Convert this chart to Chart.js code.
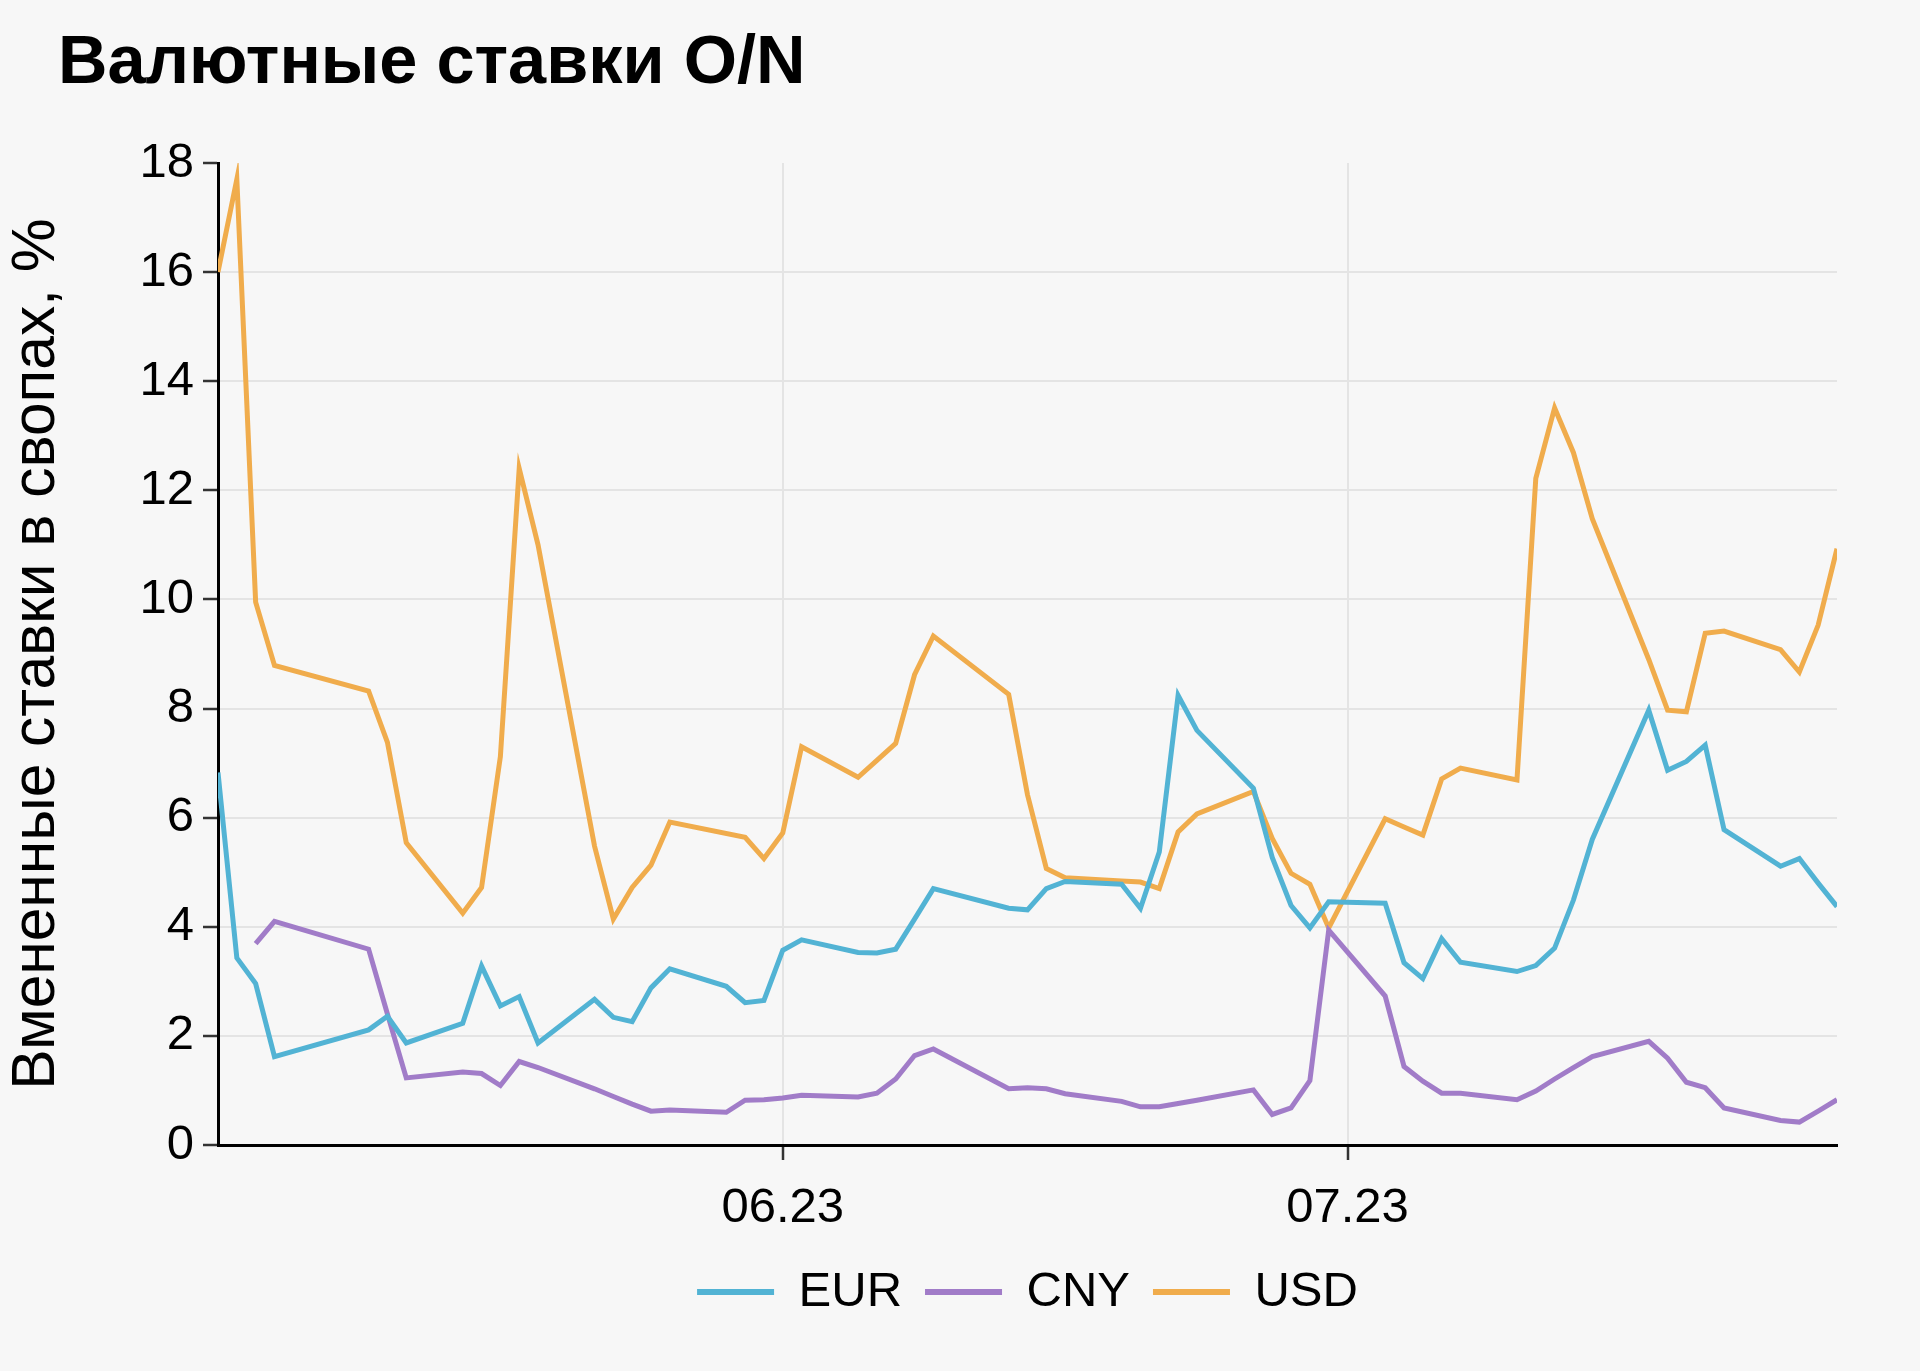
<!DOCTYPE html>
<html><head><meta charset="utf-8">
<script src="https://cdn.jsdelivr.net/npm/chart.js@4.4.1/dist/chart.umd.min.js"></script>
<style>
html,body{margin:0;padding:0;background:#f7f7f7;}
#wrap{position:relative;width:1920px;height:1371px;overflow:hidden;background:#f7f7f7;}
#title{position:absolute;left:58px;top:26px;margin:0;font:bold 68.5px "Liberation Sans",Arial,sans-serif;line-height:68px;color:#000;white-space:nowrap;}
canvas{position:absolute;left:0;top:0;}
</style></head><body>
<div id="wrap"><canvas id="c" width="1920" height="1371"></canvas><h1 id="title">Валютные ставки O/N</h1></div>
<script>
const dates = [
'2023-05-02','2023-05-03','2023-05-04','2023-05-05',
'2023-05-10','2023-05-11','2023-05-12',
'2023-05-15','2023-05-16','2023-05-17','2023-05-18','2023-05-19',
'2023-05-22','2023-05-23','2023-05-24','2023-05-25','2023-05-26',
'2023-05-29','2023-05-30','2023-05-31',
'2023-06-01','2023-06-02',
'2023-06-05','2023-06-06','2023-06-07','2023-06-08','2023-06-09',
'2023-06-13','2023-06-14','2023-06-15','2023-06-16',
'2023-06-19','2023-06-20','2023-06-21','2023-06-22','2023-06-23',
'2023-06-26','2023-06-27','2023-06-28','2023-06-29','2023-06-30',
'2023-07-03','2023-07-04','2023-07-05','2023-07-06','2023-07-07',
'2023-07-10','2023-07-11','2023-07-12','2023-07-13','2023-07-14',
'2023-07-17','2023-07-18','2023-07-19','2023-07-20','2023-07-21',
'2023-07-24','2023-07-25','2023-07-26','2023-07-27'];

const eur = [
6.83,3.43,2.96,1.62, 2.11,2.36,1.87, 2.23,3.28,2.55,2.72,1.87, 2.67,2.34,2.26,2.88,3.23, 2.91,2.61,2.65,
3.57,3.76, 3.53,3.52,3.59,4.14,4.70, 4.34,4.31,4.70,4.83, 4.78,4.34,5.37,8.24,7.60, 6.54,5.27,4.39,3.98,4.46,
4.43,3.34,3.05,3.78,3.35, 3.18,3.29,3.61,4.49,5.60, 7.97,6.87,7.03,7.33,5.78, 5.11,5.25,4.80,4.37];

const cny = [
null,null,3.69,4.10, 3.59,2.40,1.23, 1.34,1.31,1.09,1.53,1.42, 1.03,0.89,0.75,0.62,0.64, 0.60,0.82,0.83,
0.86,0.91, 0.88,0.95,1.21,1.64,1.76, 1.03,1.05,1.03,0.94, 0.80,0.70,0.70,0.76,0.82, 1.01,0.56,0.68,1.18,3.94,
2.73,1.44,1.17,0.95,0.95, 0.83,0.99,1.21,1.42,1.62, 1.90,1.59,1.15,1.05,0.68, 0.45,0.42,0.62,0.83];

const usd = [
16.0,17.7,9.95,8.79, 8.32,7.38,5.54, 4.25,4.72,7.12,12.4,11.0, 5.48,4.14,4.72,5.13,5.92, null,5.64,5.25,
5.72,7.30, 6.74,7.05,7.36,8.62,9.33, 8.26,6.42,5.07,4.90, 4.84,4.82,4.70,5.74,6.07, 6.48,5.62,4.98,4.78,3.98,
5.98,5.83,5.68,6.71,6.91, 6.69,12.22,13.51,12.69,11.48, 8.9,7.97,7.94,9.38,9.42, 9.08,8.67,9.53,10.93];

const seriesNames = ['EUR','CNY','USD'];
const tickDates = ['2023-06-01','2023-07-01'];
const tickLabels = ['06.23','07.23'];
const xRange = ['2023-05-02','2023-07-27'];
const yMin = 0, yMax = 18, yStep = 2;
const yTitle = 'Вмененные ставки в свопах, %';

const colors = ['#52b3d4','#a17cc8','#f0ac4c'];
const FONT = '"Liberation Sans", Arial, sans-serif';

const day = s => { const p = s.split('-').map(Number); return Date.UTC(p[0], p[1]-1, p[2]) / 86400000; };
const toPts = arr => dates.map((d, i) => ({x: day(d), y: arr[i]}));
const seriesData = [eur, cny, usd];

Chart.defaults.font.family = FONT;
Chart.defaults.color = '#000';

new Chart(document.getElementById('c'), {
  type: 'line',
  data: {
    datasets: seriesNames.map((n, i) => ({
      label: n,
      data: toPts(seriesData[i]),
      borderColor: colors[i],
      backgroundColor: colors[i],
      borderWidth: 5,
      pointRadius: 0,
      pointHoverRadius: 0,
      tension: 0,
      spanGaps: true,
      fill: false
    }))
  },
  options: {
    responsive: false,
    animation: false,
    devicePixelRatio: 1,
    layout: { padding: { top: 163, right: 83, bottom: 44.5, left: 0 } },
    plugins: {
      title: { display: false },
      tooltip: { enabled: false },
      legend: {
        position: 'bottom',
        fullSize: false,
        labels: {
          boxWidth: 77, boxHeight: 6, padding: 23, color: '#000',
          font: { size: 49, family: FONT },
          generateLabels: chart => Chart.defaults.plugins.legend.labels.generateLabels(chart).map(l => Object.assign(l, { lineWidth: 0 }))
        }
      }
    },
    scales: {
      x: {
        type: 'linear',
        min: day(xRange[0]),
        max: day(xRange[1]),
        afterBuildTicks: s => { s.ticks = tickDates.map(d => ({ value: day(d) })); },
        afterFit: s => { s.height = 99.5; },
        ticks: {
          autoSkip: false, maxRotation: 0, padding: 19, color: '#000',
          font: { size: 49, family: FONT },
          callback: (v, i) => tickLabels[i]
        },
        grid: { color: '#e4e4e4', lineWidth: 2, tickColor: '#333', tickLength: 15, tickWidth: 2.5 },
        border: { color: '#000', width: 3 }
      },
      y: {
        min: yMin, max: yMax,
        afterFit: s => { s.width = 218; },
        ticks: { stepSize: yStep, padding: 9, color: '#000', font: { size: 49, family: FONT } },
        grid: {
          color: ctx => (ctx.tick && (ctx.tick.value === yMax || ctx.tick.value === yMin)) ? 'rgba(0,0,0,0)' : '#e4e4e4',
          lineWidth: 2, tickColor: '#333', tickLength: 15, tickWidth: 2.5
        },
        border: { color: '#000', width: 3 },
        title: { display: true, text: yTitle, color: '#000', font: { size: 60.5, family: FONT }, padding: { top: 1, bottom: 0 } }
      }
    }
  }
});
</script>
</body></html>
